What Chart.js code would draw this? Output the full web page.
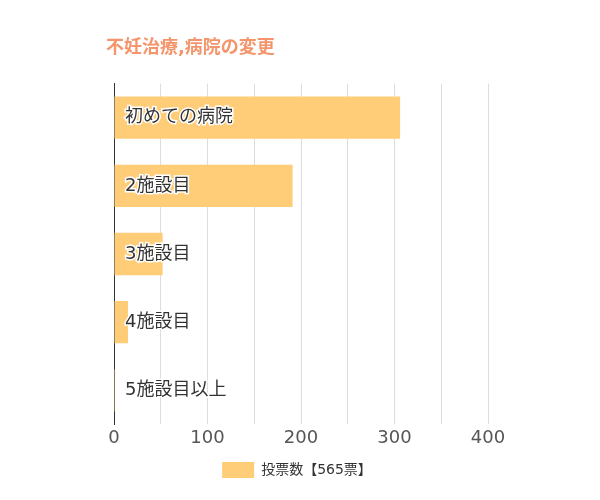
<!DOCTYPE html>
<html><head><meta charset="utf-8">
<script src="https://cdn.jsdelivr.net/npm/chart.js@4"></script>
<style>body{margin:0;background:#fff}#w{width:600px;height:500px}</style>
</head><body><div id="w"><canvas id="c"></canvas></div>
<script>
const categories = ["初めての病院","2施設目","3施設目","4施設目","5施設目以上"];
const votes = [306, 191, 52, 15, 1];
const seriesName = "投票数【565票】";
const font = "'DejaVu Sans','Noto Sans CJK JP',sans-serif";
const inLabels = {
  id:'inLabels',
  afterDatasetsDraw(chart){
    const ctx=chart.ctx, meta=chart.getDatasetMeta(0);
    ctx.save();
    ctx.font="18px "+font; ctx.textBaseline='middle';
    ctx.lineWidth=3; ctx.strokeStyle='#fff'; ctx.fillStyle='#333';
    meta.data.forEach((b,i)=>{
      const x=chart.chartArea.left+11;
      ctx.strokeText(categories[i],x,b.y);
      ctx.fillText(categories[i],x,b.y);
    });
    ctx.restore();
  }
};
new Chart(document.getElementById('c'),{
  type:'bar',
  data:{labels:categories,datasets:[{label:seriesName,data:votes,backgroundColor:'#ffcc77',barPercentage:0.62,categoryPercentage:1}]},
  options:{
    indexAxis:'y',responsive:true,maintainAspectRatio:false,animation:false,
    layout:{padding:{left:106,right:112,top:10,bottom:12}},
    plugins:{
      title:{display:true,text:'不妊治療,病院の変更',align:'start',color:'#f4956b',font:{family:font,size:18,weight:'bold'},padding:{top:28,bottom:24}},
      legend:{position:'bottom',labels:{boxWidth:32,boxHeight:16,font:{family:font,size:14},color:'#333'}},
      tooltip:{enabled:false}
    },
    scales:{
      x:{min:0,max:400,ticks:{stepSize:50,color:'#555',font:{family:font,size:18},callback:v=>v%100===0?v:''},grid:{color:'#ddd',drawTicks:false},border:{display:false}},
      y:{ticks:{display:false},grid:{display:false},border:{color:'#333'}}
    }
  },
  plugins:[inLabels]
});
</script></body></html>
